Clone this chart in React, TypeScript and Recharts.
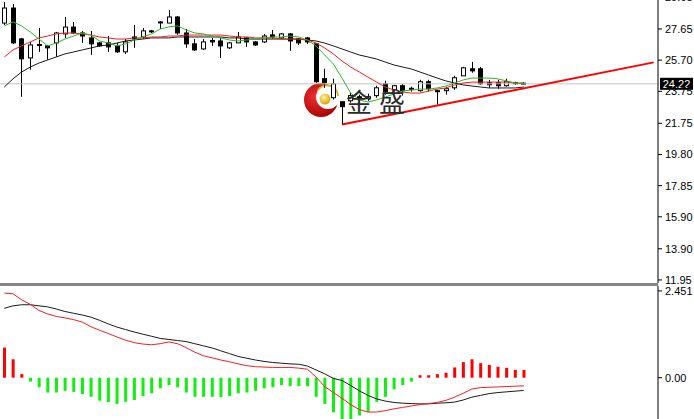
import React from 'react';
import { ComposedChart, Bar, Line, XAxis, YAxis, ReferenceLine, Cell } from 'recharts';

// daily candles, oldest first
const opens = [28.02, 28.96, 27.03, 25.84, 26.68, 26.59, 26.78, 27.34, 27.77, 27.40, 27.09, 26.78, 26.78, 26.59, 26.22, 27.15, 27.15, 27.53, 28.09, 28.02, 28.40, 27.40, 26.72, 26.40, 26.93, 26.90, 26.47, 26.78, 27.09, 26.84, 26.84, 27.28, 27.09, 27.34, 27.03, 27.09, 26.72, 24.54, 23.35, 23.10, 23.16, 23.41, 23.29, 23.48, 24.22, 23.85, 24.10, 23.94, 23.79, 24.35, 23.79, 23.79, 23.97, 24.72, 25.16, 25.16, 24.29, 24.29, 24.10, 24.29, 24.26];
const highs = [29.33, 29.21, 27.09, 26.84, 27.71, 26.65, 27.46, 28.40, 28.09, 27.53, 27.53, 26.84, 27.21, 26.78, 27.03, 27.90, 27.71, 27.59, 28.15, 28.83, 28.46, 27.65, 27.03, 27.03, 27.09, 27.09, 26.84, 27.46, 27.15, 26.90, 27.34, 27.59, 27.40, 27.40, 27.09, 27.15, 26.78, 25.16, 24.54, 23.10, 23.66, 23.54, 23.60, 24.10, 24.41, 24.16, 24.22, 24.04, 24.47, 24.47, 23.85, 24.04, 24.72, 25.28, 25.59, 25.28, 24.47, 24.47, 24.54, 24.35, 24.32];
const lows = [27.90, 26.72, 23.41, 25.10, 26.22, 25.72, 25.91, 27.09, 27.34, 26.78, 26.03, 26.53, 26.22, 26.15, 26.09, 26.47, 27.03, 27.40, 27.65, 28.02, 27.28, 26.47, 26.28, 26.34, 26.59, 25.84, 26.40, 26.78, 26.53, 26.59, 26.78, 27.03, 27.03, 26.28, 26.65, 26.72, 24.29, 23.97, 23.23, 21.67, 23.04, 23.04, 23.16, 23.35, 23.54, 23.73, 23.48, 23.73, 23.73, 23.73, 22.92, 23.54, 23.85, 24.72, 24.91, 24.16, 23.97, 23.91, 24.04, 24.16, 24.20];
const closes = [28.96, 26.78, 25.78, 26.65, 26.62, 26.47, 27.40, 27.77, 27.40, 27.21, 26.72, 26.59, 26.53, 26.22, 26.84, 27.03, 27.53, 27.50, 28.06, 28.40, 27.40, 26.72, 26.34, 26.84, 26.84, 26.59, 26.78, 27.15, 26.84, 26.65, 27.21, 27.15, 27.34, 26.90, 26.78, 26.84, 24.35, 24.29, 24.22, 22.79, 23.48, 23.29, 23.41, 23.97, 23.73, 24.10, 23.79, 23.91, 24.35, 23.91, 23.73, 23.91, 24.60, 25.22, 25.03, 24.22, 24.16, 24.10, 24.35, 24.26, 24.22];

// moving averages
const maFast = [27.84, 28.09, 27.84, 27.46, 27.02, 26.59, 26.77, 27.02, 27.21, 27.40, 27.27, 26.90, 26.77, 26.59, 26.71, 26.96, 27.15, 27.34, 27.65, 27.78, 27.84, 27.59, 27.40, 27.34, 27.21, 27.09, 26.96, 26.90, 26.96, 27.02, 27.09, 27.15, 27.15, 27.21, 27.15, 26.96, 26.59, 26.02, 25.46, 24.58, 23.64, 23.21, 23.08, 23.21, 23.39, 23.58, 23.77, 23.83, 23.89, 23.89, 23.96, 24.08, 24.27, 24.46, 24.58, 24.58, 24.58, 24.53, 24.40, 24.27, 24.21];
const maMid = [25.90, 26.34, 26.59, 26.84, 27.09, 27.21, 27.34, 27.40, 27.40, 27.34, 27.27, 27.15, 27.09, 27.02, 27.02, 27.09, 27.09, 27.15, 27.15, 27.21, 27.21, 27.27, 27.27, 27.27, 27.27, 27.27, 27.21, 27.15, 27.15, 27.09, 27.09, 27.09, 27.02, 27.02, 27.02, 26.96, 26.77, 26.46, 26.09, 25.65, 25.27, 24.96, 24.64, 24.33, 24.02, 23.83, 23.71, 23.64, 23.64, 23.77, 23.89, 23.96, 24.15, 24.27, 24.33, 24.33, 24.33, 24.33, 24.33, 24.27, 24.27];
const maSlow = [24.02, 24.53, 24.96, 25.27, 25.52, 25.71, 25.90, 26.09, 26.21, 26.34, 26.46, 26.59, 26.65, 26.77, 26.90, 26.96, 27.02, 27.09, 27.09, 27.09, 27.15, 27.15, 27.15, 27.15, 27.15, 27.15, 27.09, 27.09, 27.02, 27.02, 27.02, 27.02, 27.02, 27.02, 27.02, 26.96, 26.90, 26.77, 26.59, 26.40, 26.21, 26.02, 25.90, 25.77, 25.58, 25.40, 25.27, 25.15, 24.96, 24.77, 24.58, 24.40, 24.27, 24.15, 24.08, 24.02, 23.96, 23.96, 23.96, 23.96, 24.02];

// MACD panel
const macdHist = [0.85, 0.52, 0.10, -0.11, -0.27, -0.42, -0.42, -0.37, -0.40, -0.46, -0.54, -0.65, -0.69, -0.74, -0.68, -0.63, -0.52, -0.44, -0.30, -0.21, -0.27, -0.42, -0.54, -0.54, -0.54, -0.55, -0.52, -0.44, -0.42, -0.37, -0.30, -0.27, -0.21, -0.24, -0.24, -0.24, -0.54, -0.74, -0.98, -1.22, -1.18, -1.07, -0.96, -0.68, -0.54, -0.33, -0.21, -0.11, 0.07, 0.07, 0.10, 0.14, 0.29, 0.44, 0.52, 0.41, 0.36, 0.31, 0.28, 0.22, 0.22];
const macdDif = [2.39, 2.37, 2.20, 2.07, 1.90, 1.80, 1.73, 1.69, 1.64, 1.57, 1.44, 1.34, 1.25, 1.15, 1.06, 0.99, 0.95, 0.93, 0.96, 1.01, 0.96, 0.85, 0.72, 0.62, 0.56, 0.50, 0.45, 0.39, 0.34, 0.31, 0.30, 0.29, 0.29, 0.29, 0.27, 0.24, 0.02, -0.25, -0.42, -0.58, -0.76, -0.90, -0.97, -0.97, -0.93, -0.88, -0.84, -0.80, -0.76, -0.73, -0.70, -0.64, -0.55, -0.44, -0.32, -0.28, -0.27, -0.26, -0.25, -0.24, -0.23];
const macdDea = [1.96, 2.03, 2.06, 2.06, 2.03, 2.00, 1.94, 1.87, 1.82, 1.77, 1.71, 1.62, 1.52, 1.43, 1.36, 1.29, 1.23, 1.17, 1.11, 1.08, 1.05, 1.02, 0.96, 0.90, 0.84, 0.76, 0.68, 0.60, 0.55, 0.50, 0.46, 0.43, 0.41, 0.39, 0.38, 0.33, 0.22, 0.11, -0.02, -0.08, -0.22, -0.37, -0.50, -0.60, -0.66, -0.70, -0.72, -0.73, -0.74, -0.74, -0.72, -0.71, -0.69, -0.63, -0.55, -0.50, -0.45, -0.42, -0.40, -0.38, -0.36];

const priceTicks = [11.95, 13.9, 15.9, 17.85, 19.8, 21.75, 23.75, 25.7, 27.65, 29.65];
const macdTicks = [0, 2.451];
const lastPrice = 24.22;
const trendStart = { idx: 39, price: 21.67 };
const trendEnd = { idx: 75, price: 25.56 };
const SLOTS = 76; // empty slots on the right, like the terminal's shift

const rows = Array.from({ length: SLOTS }, (_, i) => ({
  idx: i,
  range: i < opens.length ? [lows[i], highs[i]] : null,
  o: opens[i],
  h: highs[i],
  l: lows[i],
  c: closes[i],
  fast: maFast[i],
  mid: maMid[i],
  slow: maSlow[i],
  hist: macdHist[i],
  dif: macdDif[i],
  dea: macdDea[i],
}));

const FONT = '"Liberation Sans", Arial, sans-serif';
const tickStyle = { fontSize: 11, fill: '#000', fontFamily: FONT };

function Candle(props: any) {
  const { x, y, width, height, payload } = props;
  if (!payload || payload.o == null) return null;
  const top = Math.min(y, y + height);
  const h = Math.abs(height);
  const k = h / (payload.h - payload.l);
  const bodyTop = top + (payload.h - Math.max(payload.o, payload.c)) * k;
  const bodyBot = top + (payload.h - Math.min(payload.o, payload.c)) * k;
  const left = Math.round(x) + 0.5;
  const cx = left + (width - 1) / 2;
  const up = payload.c > payload.o;
  return (
    <g>
      <line x1={cx} x2={cx} y1={top} y2={top + h} stroke="#000" strokeWidth={1} />
      <rect
        x={left}
        y={bodyTop}
        width={width - 1}
        height={Math.max(bodyBot - bodyTop, 1)}
        fill={up ? '#fff' : '#000'}
        stroke="#000"
        strokeWidth={1}
      />
    </g>
  );
}

function PriceTag(props: any) {
  const vb = props.viewBox;
  if (!vb) return null;
  const x = vb.x + vb.width + 2;
  return (
    <g>
      <rect x={x} y={vb.y - 6} width={33} height={12} fill="#000" />
      <text x={x + 16.5} y={vb.y} dy="0.36em" textAnchor="middle" fill="#fff" fontSize={11} fontFamily={FONT}>
        {lastPrice.toFixed(2)}
      </text>
    </g>
  );
}

export default function App() {
  return (
    <div style={{ position: 'absolute', left: 0, top: 0, width: 694, height: 419, overflow: 'hidden', background: '#fff' }}>
      {/* watermark logo, under the chart */}
      <svg width={694} height={419} style={{ position: 'absolute', left: 0, top: 0 }}>
        <defs>
          <radialGradient id="redball" cx="35%" cy="40%" r="70%">
            <stop offset="0%" stopColor="#f03030" />
            <stop offset="100%" stopColor="#a00000" />
          </radialGradient>
          <radialGradient id="goldball" cx="40%" cy="35%" r="70%">
            <stop offset="0%" stopColor="#fff3a0" />
            <stop offset="100%" stopColor="#d4a000" />
          </radialGradient>
        </defs>
        <circle cx={321} cy={100} r={17} fill="url(#redball)" />
        <circle cx={328} cy={97} r={12} fill="#fff" />
        <path d="M 318 90 A 11 11 0 0 1 338 96" fill="none" stroke="#d9b020" strokeWidth={2} />
        <circle cx={325} cy={99} r={5.5} fill="url(#goldball)" />
      </svg>

      <div style={{ position: 'absolute', left: 0, top: -13 }}>
        <ComposedChart width={694} height={306} data={rows} margin={{ top: 10, right: 0, bottom: 10, left: 0 }}>
          <XAxis dataKey="idx" hide />
          <YAxis
            orientation="right"
            width={36}
            domain={[11.76, 29.65]}
            ticks={priceTicks}
            interval={0}
            allowDataOverflow
            tickSize={4}
            tickMargin={3}
            tick={tickStyle}
            tickFormatter={(v: number) => v.toFixed(2)}
            axisLine={{ stroke: '#000' }}
            tickLine={{ stroke: '#000' }}
          />
          <ReferenceLine y={lastPrice} stroke="#c4c4c4" strokeWidth={1} label={<PriceTag />} />
          <Line type="linear" dataKey="slow" stroke="#1a1a1a" strokeWidth={1} dot={false} activeDot={false} isAnimationActive={false} />
          <Line type="linear" dataKey="mid" stroke="#f02020" strokeWidth={1} dot={false} activeDot={false} isAnimationActive={false} />
          <Line type="linear" dataKey="fast" stroke="#2cb82c" strokeWidth={1} dot={false} activeDot={false} isAnimationActive={false} />
          <Bar dataKey="range" barSize={5} shape={<Candle />} isAnimationActive={false} />
          <ReferenceLine
            segment={[{ x: trendStart.idx, y: trendStart.price }, { x: trendEnd.idx, y: trendEnd.price }]}
            stroke="#ff0000"
            strokeWidth={2}
            ifOverflow="visible"
          />
        </ComposedChart>
      </div>

      <div style={{ position: 'absolute', left: 0, top: 283, width: 658, height: 3, background: '#858585' }} />

      <div style={{ position: 'absolute', left: 0, top: 286 }}>
        <ComposedChart width={694} height={146} data={rows} margin={{ top: 0, right: 0, bottom: 0, left: 0 }}>
          <XAxis dataKey="idx" hide />
          <YAxis
            orientation="right"
            width={36}
            domain={[-1.534, 2.59]}
            ticks={macdTicks}
            interval={0}
            allowDataOverflow
            tickSize={4}
            tickMargin={3}
            tick={tickStyle}
            tickFormatter={(v: number) => (v === 0 ? '0.00' : v.toFixed(3))}
            axisLine={{ stroke: '#000' }}
            tickLine={{ stroke: '#000' }}
          />
          <Bar dataKey="hist" barSize={3} isAnimationActive={false}>
            {rows.map((r, i) => (
              <Cell key={i} fill={(r.hist ?? 0) >= 0 ? '#ff0000' : '#11ee11'} />
            ))}
          </Bar>
          <Line type="linear" dataKey="dea" stroke="#1a1a1a" strokeWidth={1} dot={false} activeDot={false} isAnimationActive={false} />
          <Line type="linear" dataKey="dif" stroke="#f02020" strokeWidth={1} dot={false} activeDot={false} isAnimationActive={false} />
        </ComposedChart>
      </div>

      {/* watermark text, over the chart */}
      <svg width={694} height={419} style={{ position: 'absolute', left: 0, top: 0, pointerEvents: 'none' }}>
        <text x={346} y={112} fontSize={26} letterSpacing={7} fill="#2a2a2a" fontFamily='"Noto Sans CJK SC", sans-serif'>
          金盛
        </text>
      </svg>
    </div>
  );
}
